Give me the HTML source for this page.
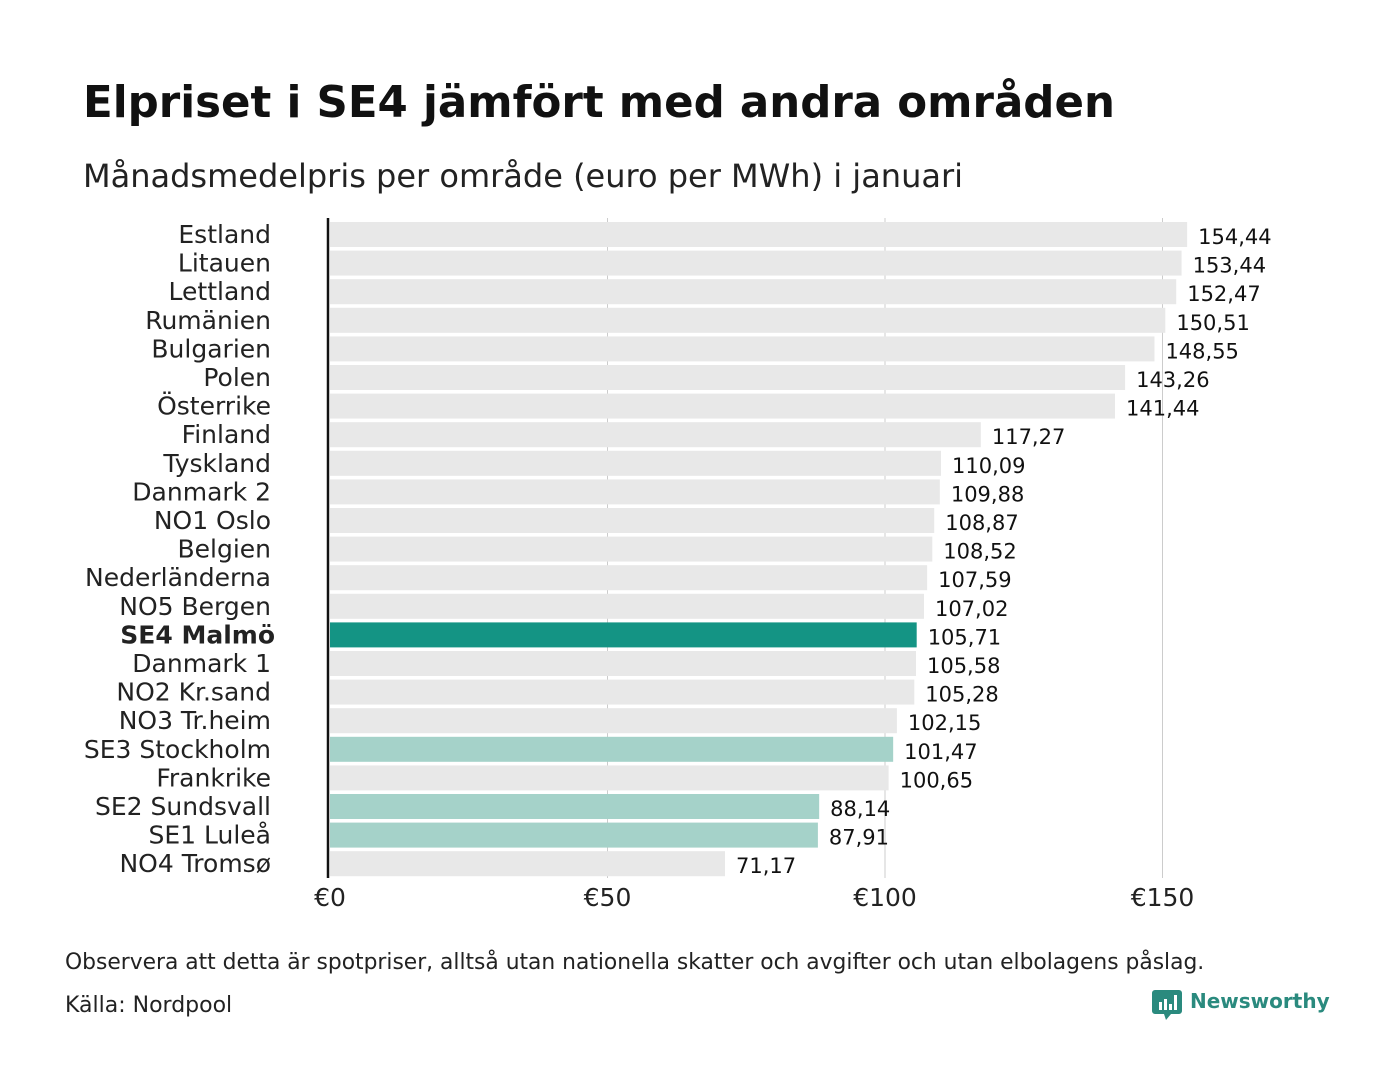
<!DOCTYPE html>
<html><head><meta charset="utf-8">
<style>
body{margin:0;background:#fff;width:1400px;height:1080px;overflow:hidden;font-family:"DejaVu Sans","Liberation Sans",sans-serif;}
svg text{font-family:"DejaVu Sans","Liberation Sans",sans-serif;}
</style></head>
<body>
<svg id="chart" width="1400" height="1080">
<text x="83" y="117" font-size="43.5" font-weight="bold" fill="#111">Elpriset i SE4 jämfört med andra områden</text>
<text x="83" y="187" font-size="32" fill="#222">Månadsmedelpris per område (euro per MWh) i januari</text>
<g id="grid"></g><g id="bars"></g><g id="labels"></g><g id="values"></g><g id="ticks"></g>
<line x1="328" y1="218" x2="328" y2="878" stroke="#111" stroke-width="2.5"/>
<text x="65" y="969" font-size="21.8" fill="#222">Observera att detta är spotpriser, alltså utan nationella skatter och avgifter och utan elbolagens påslag.</text>
<text x="65" y="1012" font-size="22" fill="#222">Källa: Nordpool</text>
<g>
<path d="M1155 990 h24 a3 3 0 0 1 3 3 v18 a3 3 0 0 1 -3 3 h-8 l-5 6 l-2 -6 h-9 a3 3 0 0 1 -3 -3 v-18 a3 3 0 0 1 3 -3z" fill="#2a8a7e"/>
<rect x="1159" y="1002" width="3" height="8" fill="#fff"/><rect x="1164" y="999" width="3" height="11" fill="#fff"/><rect x="1169" y="1004" width="3" height="6" fill="#fff"/><rect x="1174" y="995" width="3" height="15" fill="#fff"/>
<text x="1190" y="1008" font-size="20" font-weight="bold" fill="#2a8a7e">Newsworthy</text>
</g>
</svg>
<script>
const categories=["Estland","Litauen","Lettland","Rumänien","Bulgarien","Polen","Österrike","Finland","Tyskland","Danmark  2","NO1 Oslo","Belgien","Nederländerna","NO5 Bergen","SE4 Malmö","Danmark  1","NO2 Kr.sand","NO3 Tr.heim","SE3  Stockholm","Frankrike","SE2  Sundsvall","SE1  Luleå","NO4 Tromsø"];
const values=[154.44,153.44,152.47,150.51,148.55,143.26,141.44,117.27,110.09,109.88,108.87,108.52,107.59,107.02,105.71,105.58,105.28,102.15,101.47,100.65,88.14,87.91,71.17];
const highlight=["SE4 Malmö"];
const secondary=["SE3  Stockholm","SE2  Sundsvall","SE1  Luleå"];
const tickValues=[0,50,100,150];
const tickLabels=["€0","€50","€100","€150"];
const NS="http://www.w3.org/2000/svg";
const x=v=>330+v*5.55;
const rowTop=i=>222+i*28.6;
function mk(t,a,p){const e=document.createElementNS(NS,t);for(const k in a)e.setAttribute(k,a[k]);p.appendChild(e);return e;}
const grid=document.getElementById('grid'),bars=document.getElementById('bars'),labels=document.getElementById('labels'),vals=document.getElementById('values'),ticks=document.getElementById('ticks');
tickValues.forEach((t,i)=>{
 if(t>0){const g=mk('line',{x1:x(t),x2:x(t),y1:218,y2:878,stroke:'#ccc','stroke-width':1},grid);
 
 }
 const tx=mk('text',{x:x(t),y:906,'font-size':25,'text-anchor':'middle',fill:'#222'},ticks);
 tx.textContent=tickLabels[i];
 
 
});
categories.forEach((c,i)=>{
 const y=rowTop(i);
 const col=highlight.includes(c)?'#149484':secondary.includes(c)?'#a5d2c9':'#e8e8e8';
 const r=mk('rect',{x:330,y:y,width:x(values[i])-330,height:25,fill:col},bars);
 
 
 const l=mk('text',{x:271,y:y+21,'font-size':25,'text-anchor':'end',fill:'#222'},labels);
 if(highlight.includes(c)){l.setAttribute('font-weight','bold');l.setAttribute('font-family','Liberation Sans, sans-serif');l.setAttribute('x',275);}
 l.textContent=c;
 
 
 const v=mk('text',{x:x(values[i])+11,y:y+22,'font-size':21,fill:'#111'},vals);
 v.textContent=values[i].toFixed(2).replace('.',',');
 
 
});
</script>
</body></html>
